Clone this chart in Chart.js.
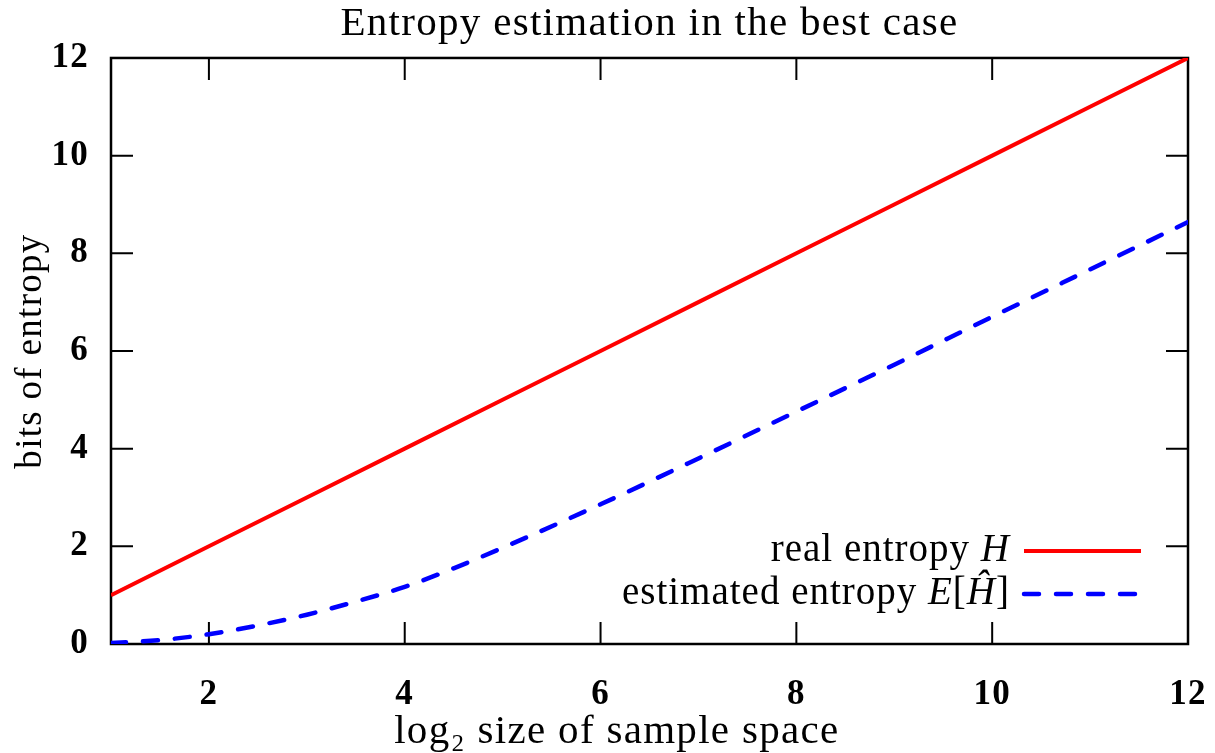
<!DOCTYPE html>
<html><head><meta charset="utf-8">
<script src="https://cdn.jsdelivr.net/npm/chart.js@4/dist/chart.umd.min.js"></script>
<style>html,body{margin:0;padding:0;background:#fff}#wrap{width:1215px;height:753px}</style>
</head><body><div id="wrap"><canvas id="c"></canvas></div>
<script>
const chartTitle = 'Entropy estimation in the best case';
const xAxisTitle = 'log\u2082 size of sample space\u2002\u2002\u2002';
const yAxisTitle = 'bits of entropy';
const xTicks = [2, 4, 6, 8, 10, 12];
const yTicks = [0, 2, 4, 6, 8, 10, 12];
const realX = [1, 2, 3, 4, 5, 6, 7, 8, 9, 10, 11, 12];
const realY = [1, 2, 3, 4, 5, 6, 7, 8, 9, 10, 11, 12];
const estX = [1, 1.5, 2, 2.5, 3, 3.5, 4, 4.5, 5, 6, 7, 8, 9, 10, 11, 12];
const estY = [0.02, 0.08, 0.2, 0.38, 0.6, 0.87, 1.17, 1.55, 1.97, 2.86, 3.8, 4.76, 5.72, 6.7, 7.67, 8.64];
const legendParts = [
  [['real entropy ', 'normal'], ['H', 'italic']],
  [['estimated entropy ', 'normal'], ['E', 'italic'], ['[', 'normal'], ['\u0124', 'italic'], [']', 'normal']]
];

const FONT = "'Liberation Serif', 'DejaVu Serif', serif";

const spacingPlugin = {
  id: 'spacing',
  beforeDraw(chart) { chart.ctx.letterSpacing = '1.3px'; },
  afterDraw(chart) { chart.ctx.letterSpacing = '0px'; }
};

const framePlugin = {
  id: 'frame',
  beforeDatasetsDraw(chart) {
    const {ctx, chartArea: a, scales} = chart;
    ctx.save();
    ctx.strokeStyle = '#000';
    ctx.lineWidth = 2;
    const L = 22;
    ctx.beginPath();
    scales.x.ticks.forEach(t => {
      const px = scales.x.getPixelForValue(t.value);
      ctx.moveTo(px, a.bottom); ctx.lineTo(px, a.bottom - L);
      ctx.moveTo(px, a.top); ctx.lineTo(px, a.top + L);
    });
    scales.y.ticks.forEach(t => {
      const py = scales.y.getPixelForValue(t.value);
      ctx.moveTo(a.left, py); ctx.lineTo(a.left + L, py);
      ctx.moveTo(a.right, py); ctx.lineTo(a.right - L, py);
    });
    ctx.stroke();
    ctx.lineWidth = 2.5;
    ctx.strokeRect(a.left, a.top, a.right - a.left, a.bottom - a.top);
    ctx.restore();
  },
  afterDatasetsDraw(chart) {
    const {ctx} = chart;
    ctx.save();
    ctx.letterSpacing = '1px';
    const rightX = 1010;
    const rows = [551, 594];
    const lineX0 = 1024, lineX1 = 1141;
    const size = 39;
    chart.data.datasets.forEach((ds, i) => {
      const parts = legendParts[i];
      const y = rows[i];
      let total = 0;
      const widths = parts.map(([txt, st]) => {
        ctx.font = `${st} ${size}px ${FONT}`;
        const w = ctx.measureText(txt).width; total += w; return w;
      });
      let x = rightX - total;
      ctx.fillStyle = '#000';
      ctx.textBaseline = 'middle';
      ctx.textAlign = 'left';
      parts.forEach(([txt, st], j) => {
        ctx.font = `${st} ${size}px ${FONT}`;
        ctx.fillText(txt, x, y);
        x += widths[j];
      });
      ctx.strokeStyle = ds.borderColor;
      ctx.lineWidth = ds.borderWidth;
      ctx.lineCap = ds.borderCapStyle || 'butt';
      ctx.setLineDash(ds.borderDash || []);
      ctx.beginPath();
      ctx.moveTo(lineX0, y); ctx.lineTo(lineX1, y);
      ctx.stroke();
      ctx.setLineDash([]);
    });
    ctx.restore();
  }
};

new Chart(document.getElementById('c'), {
  type: 'line',
  data: {
    datasets: [
      {
        label: 'real entropy H',
        data: realX.map((x, i) => ({x, y: realY[i]})),
        borderColor: '#ff0000',
        borderWidth: 4,
        pointRadius: 0,
        tension: 0,
        borderCapStyle: 'butt'
      },
      {
        label: 'estimated entropy E[\u0124]',
        data: estX.map((x, i) => ({x, y: estY[i]})),
        borderColor: '#0000ff',
        borderWidth: 4.5,
        borderDash: [15, 17],
        borderCapStyle: 'round',
        pointRadius: 0,
        cubicInterpolationMode: 'monotone'
      }
    ]
  },
  options: {
    responsive: true,
    maintainAspectRatio: false,
    animation: false,
    layout: {padding: {left: 0, right: 27, top: 0, bottom: 0}},
    plugins: {
      legend: {display: false},
      tooltip: {enabled: false},
      title: {
        display: true,
        fullSize: false,
        text: chartTitle,
        color: '#000',
        font: {family: FONT, size: 41, weight: 'normal', lineHeight: 1.17},
        padding: {top: 0, bottom: 10}
      }
    },
    scales: {
      x: {
        type: 'linear',
        min: 1, max: 12,
        afterBuildTicks: s => { s.ticks = xTicks.map(v => ({value: v})); },
        afterFit: s => { s.height = 109; s.paddingRight = 0; s.paddingLeft = 0; },
        grid: {display: false, drawTicks: false},
        border: {display: false},
        ticks: {color: '#000', padding: 30, maxRotation: 0, font: {family: FONT, size: 35, weight: 'bold'}},
        title: {display: true, text: xAxisTitle, color: '#000', font: {family: FONT, size: 41, lineHeight: 1.0}, padding: {top: 0, bottom: 0}}
      },
      y: {
        type: 'linear',
        min: 0, max: 12,
        afterBuildTicks: s => { s.ticks = yTicks.map(v => ({value: v})); },
        afterFit: s => { s.width = 111; s.paddingTop = 0; s.paddingBottom = 0; },
        grid: {display: false, drawTicks: false},
        border: {display: false},
        ticks: {color: '#000', padding: 22, font: {family: FONT, size: 35, weight: 'bold'}},
        title: {display: true, text: yAxisTitle, color: '#000', font: {family: FONT, size: 37, lineHeight: 1.2}, padding: {top: 9, bottom: 0}}
      }
    }
  },
  plugins: [spacingPlugin, framePlugin]
});
</script>
</body></html>
